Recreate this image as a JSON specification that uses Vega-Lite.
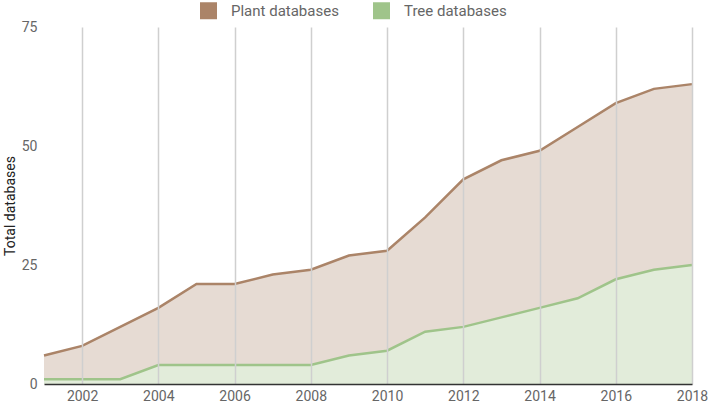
{
  "$schema": "https://vega.github.io/schema/vega-lite/v6.json",
  "width": 648,
  "height": 357,
  "autosize": {"type": "none"},
  "padding": {"left": 44, "top": 27, "right": 17, "bottom": 20},
  "background": "#ffffff",
  "config": {
    "font": "Roboto",
    "view": {"stroke": null},
    "axis": {"labelFont": "Roboto", "titleFont": "Roboto"}
  },
  "data": {
    "values": [
      {"year": 2001, "Plant databases": 6, "Tree databases": 1},
      {"year": 2002, "Plant databases": 8, "Tree databases": 1},
      {"year": 2003, "Plant databases": 12, "Tree databases": 1},
      {"year": 2004, "Plant databases": 16, "Tree databases": 4},
      {"year": 2005, "Plant databases": 21, "Tree databases": 4},
      {"year": 2006, "Plant databases": 21, "Tree databases": 4},
      {"year": 2007, "Plant databases": 23, "Tree databases": 4},
      {"year": 2008, "Plant databases": 24, "Tree databases": 4},
      {"year": 2009, "Plant databases": 27, "Tree databases": 6},
      {"year": 2010, "Plant databases": 28, "Tree databases": 7},
      {"year": 2011, "Plant databases": 35, "Tree databases": 11},
      {"year": 2012, "Plant databases": 43, "Tree databases": 12},
      {"year": 2013, "Plant databases": 47, "Tree databases": 14},
      {"year": 2014, "Plant databases": 49, "Tree databases": 16},
      {"year": 2015, "Plant databases": 54, "Tree databases": 18},
      {"year": 2016, "Plant databases": 59, "Tree databases": 22},
      {"year": 2017, "Plant databases": 62, "Tree databases": 24},
      {"year": 2018, "Plant databases": 63, "Tree databases": 25}
    ]
  },
  "layer": [
    {
      "mark": {"type": "area", "color": "#e6dbd3"},
      "encoding": {
        "x": {
          "field": "year", "type": "quantitative",
          "scale": {"domain": [2001, 2018], "nice": false, "zero": false},
          "axis": {
            "title": null, "values": [2002, 2004, 2006, 2008, 2010, 2012, 2014, 2016, 2018],
            "format": "d", "grid": true, "gridColor": "#cfcfcf", "gridWidth": 1.5, "zindex": 1,
            "domain": true, "domainColor": "#333333", "domainWidth": 1.5, "ticks": false,
            "labelFlush": false, "labelFontSize": 14, "labelColor": "#666666", "labelPadding": 5
          }
        },
        "y": {
          "field": "Plant databases", "type": "quantitative",
          "scale": {"domain": [0, 75], "nice": false},
          "axis": {
            "title": "Total databases", "titleFontSize": 14, "titleColor": "#222222",
            "titleFontWeight": "normal", "titlePadding": 4,
            "values": [0, 25, 50, 75], "grid": true, "gridColor": "#ffffff", "gridOpacity": 0.6,
            "zindex": 0, "domain": false, "ticks": false,
            "labelFontSize": 14, "labelColor": "#666666", "labelPadding": 7
          }
        },
        "y2": {"field": "Tree databases"}
      }
    },
    {
      "mark": {"type": "area", "color": "#e2ecda"},
      "encoding": {
        "x": {"field": "year", "type": "quantitative"},
        "y": {"field": "Tree databases", "type": "quantitative"},
        "y2": {"datum": 0}
      }
    },
    {
      "transform": [{"fold": ["Plant databases", "Tree databases"], "as": ["series", "value"]}],
      "mark": {"type": "line", "strokeWidth": 2.5},
      "encoding": {
        "x": {"field": "year", "type": "quantitative"},
        "y": {"field": "value", "type": "quantitative"},
        "color": {
          "field": "series", "type": "nominal",
          "scale": {"domain": ["Plant databases", "Tree databases"], "range": ["#ab8468", "#9fc48a"]},
          "legend": {
            "title": null, "orient": "none", "direction": "horizontal",
            "legendX": 156, "legendY": -25,
            "symbolType": "square", "symbolSize": 64, "symbolStrokeWidth": 9,
            "labelFontSize": 15, "labelColor": "#666666", "labelFont": "Roboto",
            "columnPadding": 20, "labelOffset": 14
          }
        }
      }
    }
  ]
}
